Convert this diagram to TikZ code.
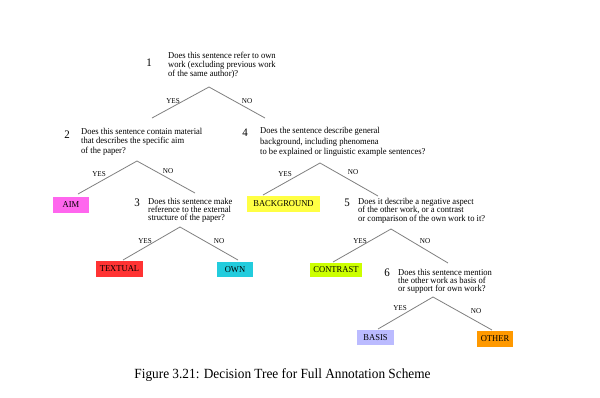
\documentclass[tikz,border=0pt]{standalone}
\usepackage{fontspec}
\setmainfont{Liberation Serif}
\newfontfamily\qfont[FakeStretch=0.95]{Liberation Serif}
\definecolor{cAim}{RGB}{255,102,238}
\definecolor{cText}{RGB}{255,51,51}
\definecolor{cOwn}{RGB}{34,204,221}
\definecolor{cBack}{RGB}{255,255,68}
\definecolor{cContr}{RGB}{204,255,0}
\definecolor{cBasis}{RGB}{187,187,255}
\definecolor{cOther}{RGB}{255,153,0}
\definecolor{cLine}{RGB}{128,128,128}
\tikzset{
  question/.style={anchor=north west, inner sep=0pt, align=left},
  qnum/.style={inner sep=0pt, font=\qfont\fontsize{11.5}{11.5}\selectfont},
  yn/.style={inner sep=0pt, font=\qfont\fontsize{7.5}{7.5}\selectfont},
  branch/.style={draw=cLine, line width=0.8pt},
  leaf/.style={inner sep=0pt, font=\qfont\fontsize{9}{9}\selectfont, text=black}
}
\begin{document}
\begin{tikzpicture}[x=1pt,y=-1pt]
\useasboundingbox[fill=white] (0,0) rectangle (600,397);

% Question 1
\node[qnum] (n1) at (149,63) {1};
\node[question, font=\qfont\fontsize{9}{9}\selectfont] (q1) at (168,51.8)
  {Does this sentence refer to own\\work (excluding previous work\\of the same author)?};
\coordinate (a1) at (209,87);
\coordinate (e1y) at (152,118);
\coordinate (e1n) at (265,118);
\draw[branch] (e1y) -- (a1) -- (e1n);
\node[yn] (y1) at (173,101) {YES};
\node[yn] (o1) at (247,101) {NO};

% Question 2
\node[qnum] (n2) at (67,135) {2};
\node[question, font=\qfont\fontsize{9}{9.5}\selectfont] (q2) at (81,127.8)
  {Does this sentence contain material\\that describes the specific aim\\of the paper?};
\coordinate (a2) at (137,161);
\coordinate (e2y) at (78,194);
\coordinate (e2n) at (195,193);
\draw[branch] (e2y) -- (a2) -- (e2n);
\node[yn] (y2) at (99,174) {YES};
\node[yn] (o2) at (168,171) {NO};

% Leaf AIM
\node[leaf, fill=cAim, minimum width=36pt, minimum height=16pt] (aim) at (71,205) {AIM};

% Question 3
\node[qnum] (n3) at (137,203) {3};
\node[question, font=\qfont\fontsize{9}{8}\selectfont] (q3) at (148,197.8)
  {Does this sentence make\\reference to the external\\structure of the paper?};
\coordinate (a3) at (180,227);
\coordinate (e3y) at (123,260);
\coordinate (e3n) at (238,260);
\draw[branch] (e3y) -- (a3) -- (e3n);
\node[yn] (y3) at (145,241) {YES};
\node[yn] (o3) at (219,241) {NO};
\node[leaf, fill=cText, minimum width=47pt, minimum height=16pt] (textual) at (119.5,269) {TEXTUAL};
\node[leaf, fill=cOwn, minimum width=36pt, minimum height=15pt] (own) at (235,269.5) {OWN};

% Question 4
\node[qnum] (n4) at (245,133) {4};
\node[question, font=\qfont\fontsize{9}{10.5}\selectfont] (q4) at (260,127.3)
  {Does the sentence describe general\\background, including phenomena\\to be explained or linguistic example sentences?};
\coordinate (a4) at (320,163);
\coordinate (e4y) at (263,195);
\coordinate (e4n) at (378,196);
\draw[branch] (e4y) -- (a4) -- (e4n);
\node[yn] (y4) at (285,174) {YES};
\node[yn] (o4) at (353,172) {NO};
\node[leaf, fill=cBack, minimum width=73pt, minimum height=16pt] (back) at (283.5,204) {BACKGROUND};

% Question 5
\node[qnum] (n5) at (347,203) {5};
\node[question, font=\qfont\fontsize{9}{8.5}\selectfont] (q5) at (358,197.8)
  {Does it describe a negative aspect\\of the other work, or a contrast\\or comparison of the own work to it?};
\coordinate (a5) at (391,229);
\coordinate (e5y) at (333,262);
\coordinate (e5n) at (448,263);
\draw[branch] (e5y) -- (a5) -- (e5n);
\node[yn] (y5) at (360,241) {YES};
\node[yn] (o5) at (425,241) {NO};
\node[leaf, fill=cContr, minimum width=52pt, minimum height=14pt] (contrast) at (336,270) {CONTRAST};

% Question 6
\node[qnum] (n6) at (387,273) {6};
\node[question, font=\qfont\fontsize{9}{8}\selectfont] (q6) at (398,268.8)
  {Does this sentence mention\\the other work as basis of\\or support for own work?};
\coordinate (a6) at (433,297);
\coordinate (e6y) at (378,329);
\coordinate (e6n) at (492,330);
\draw[branch] (e6y) -- (a6) -- (e6n);
\node[yn] (y6) at (400,308) {YES};
\node[yn] (o6) at (476,311) {NO};
\node[leaf, fill=cBasis, minimum width=37pt, minimum height=15pt] (basis) at (375.5,337.5) {BASIS};
\node[leaf, fill=cOther, minimum width=36pt, minimum height=16pt] (other) at (495,339) {OTHER};

% Caption
\node[inner sep=0pt, font=\qfont\fontsize{14}{14}\selectfont] (cap) at (282.5,375)
  {Figure 3.21: Decision Tree for Full Annotation Scheme};
\end{tikzpicture}
\end{document}
